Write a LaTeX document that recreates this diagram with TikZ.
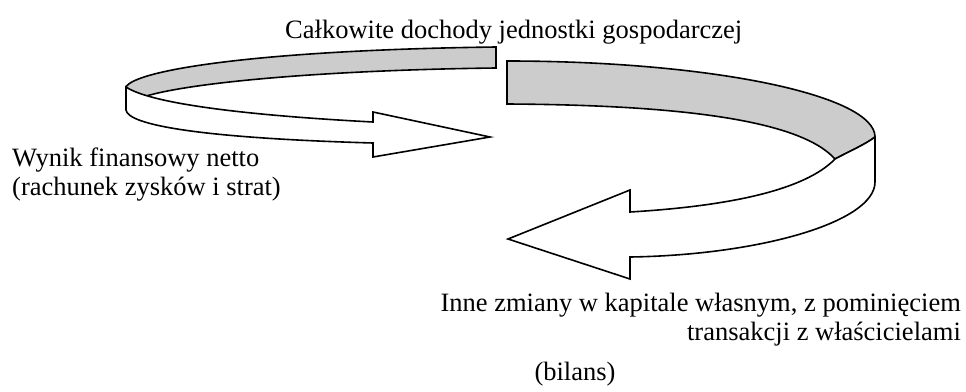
\documentclass[tikz,border=0pt]{standalone}
\usepackage{fontspec}
\setmainfont{Liberation Serif}
\begin{document}
\begin{tikzpicture}[x=1pt,y=-1pt,
  ribbon/.style={draw=black,line width=1.6pt,line join=miter},
  backside/.style={ribbon,fill=bandgray},
  frontside/.style={ribbon,fill=white},
  label/.style={inner sep=0pt,font=\fontsize{26.5}{28.5}\selectfont}]
\definecolor{bandgray}{RGB}{204,204,204}
\useasboundingbox (0,0) rectangle (966,391);

% upper loop: back surface (grey) and front surface ending in an arrow
\path[backside] (496,47) -- (496,68)
  .. controls (330,70) and (190,82) .. (143,97)
  .. controls (136,94) and (129,91) .. (126,87)
  .. controls (135,70) and (260,50) .. (496,47) -- cycle;
\path[frontside] (126,87) -- (126,110)
  .. controls (128,125) and (200,138) .. (373,143)
  -- (373,157) -- (490,137) -- (373,112) -- (373,122)
  .. controls (240,115) and (150,103) .. (126,87) -- cycle;

% lower loop: back surface (grey) turning into the front surface with an arrow
\path[backside] (507,61) -- (507,104)
  .. controls (680,105) and (800,120) .. (835,159)
  .. controls (850,151) and (866,144) .. (875,137)
  .. controls (875,95) and (710,61) .. (507,61) -- cycle;
\path[frontside] (875,137) -- (875,182)
  .. controls (875,222) and (760,255) .. (630,257)
  -- (630,279) -- (508,239) -- (630,190) -- (630,212)
  .. controls (730,206) and (805,190) .. (835,159)
  .. controls (850,151) and (866,144) .. (875,137) -- cycle;

% captions
\node[label,anchor=base west] (income) at (285,38)
  {Całkowite dochody jednostki gospodarczej};
\node[label,anchor=base west,align=left] (result) at (12,195)
  {Wynik finansowy netto\\(rachunek zysków i strat)};
\node[label,anchor=north east,align=right] (equity) at (961,293)
  {Inne zmiany w kapitale własnym, z pominięciem\\transakcji z właścicielami};
\node[label,anchor=base] (balance) at (575,380) {(bilans)};
\end{tikzpicture}
\end{document}
